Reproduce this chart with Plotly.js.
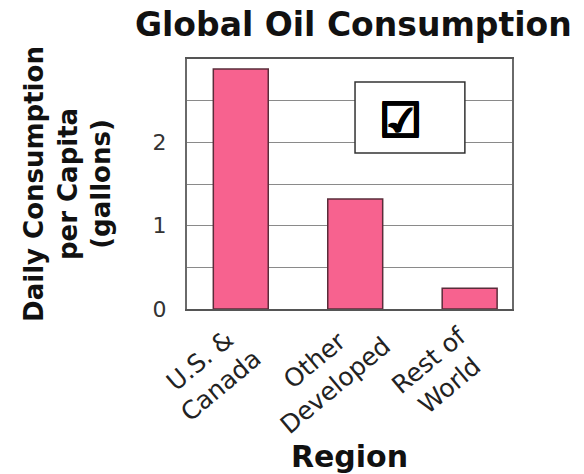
<!DOCTYPE html>
<html>
<head>
<meta charset="utf-8">
<script src="https://cdn.plot.ly/plotly-3.0.1.min.js"></script>
<style>html,body{margin:0;padding:0;background:#fff;}#chart{width:584px;height:474px;}</style>
</head>
<body>
<div id="chart"></div>
<script>
const categories = ['U.S. & Canada', 'Other Developed', 'Rest of World'];
const tickLabels = ['U.S. &<br>Canada', 'Other<br>Developed', 'Rest of<br>World'];
const values = [2.88, 1.32, 0.25];
const yTickVals = [0, 1, 2];
const yTickText = ['0', '1', '2'];
const chartTitle = 'Global Oil Consumption';
const xTitle = 'Region';
const yTitle = 'Daily Consumption<br>per Capita<br>(gallons)';
const checkText = '\u2611';

const FONT = 'DejaVu Sans, Verdana, sans-serif';

const trace = {
  type: 'bar',
  x: categories,
  y: values,
  width: 0.48,
  marker: { color: '#f7628f', line: { color: '#5a2c3a', width: 1.5 } },
  hoverinfo: 'skip'
};

const tickAnnotations = categories.map((c, i) => ({
  x: c, xref: 'x', y: -0.256, yref: 'paper',
  text: tickLabels[i], textangle: -40, showarrow: false,
  xanchor: 'center', yanchor: 'middle', xshift: -30, align: 'center',
  font: { family: FONT, size: 25, color: '#222' }
}));

const layout = {
  width: 584, height: 474,
  margin: { l: 187, r: 72, t: 59, b: 165 },
  paper_bgcolor: '#fff', plot_bgcolor: '#fff',
  showlegend: false,
  title: {
    text: chartTitle, x: 0.605, xref: 'container', xanchor: 'center',
    y: 0.949, yref: 'container', yanchor: 'middle',
    font: { family: FONT, size: 33, color: '#111', weight: 'bold' }
  },
  xaxis: {
    type: 'category', range: [-0.47, 2.37],
    showticklabels: false, ticks: '', showgrid: false, zeroline: false,
    showline: true, mirror: true, linecolor: '#555', linewidth: 2,
    automargin: false,
    title: { text: xTitle, standoff: 141, font: { family: FONT, size: 30, color: '#111', weight: 'bold' } }
  },
  yaxis: {
    range: [0, 3], tickvals: yTickVals, ticktext: yTickText,
    ticks: '', ticklabelstandoff: 14,
    tickfont: { family: FONT, size: 22, color: '#333' },
    showgrid: true, gridcolor: '#8a8a8a', gridwidth: 1,
    minor: { dtick: 0.5, tick0: 0, showgrid: true, gridcolor: '#8a8a8a', gridwidth: 1 },
    zeroline: false,
    showline: true, mirror: true, linecolor: '#6a6a6a', linewidth: 2,
    automargin: false,
    title: { text: yTitle, standoff: 34, font: { family: FONT, size: 26, color: '#111', weight: 'bold' } }
  },
  shapes: [{
    type: 'rect', xref: 'paper', yref: 'paper',
    x0: 0.517, x1: 0.855, y0: 0.624, y1: 0.908,
    line: { color: '#333', width: 1.5 }, fillcolor: '#fff', layer: 'above'
  }],
  annotations: tickAnnotations.concat([{
    x: 0.658, y: 0.756, xref: 'paper', yref: 'paper',
    text: checkText, showarrow: false, xanchor: 'center', yanchor: 'middle',
    font: { family: FONT, size: 48, color: '#000', weight: 'bold',
            shadow: '1px 0 0 #000, -1px 0 0 #000, 0 1px 0 #000, 0 -1px 0 #000, 1px 1px 0 #000, -1px -1px 0 #000, 1px -1px 0 #000, -1px 1px 0 #000' }
  }])
};

Plotly.newPlot('chart', [trace], layout, { displayModeBar: false, staticPlot: true });
</script>
</body>
</html>
